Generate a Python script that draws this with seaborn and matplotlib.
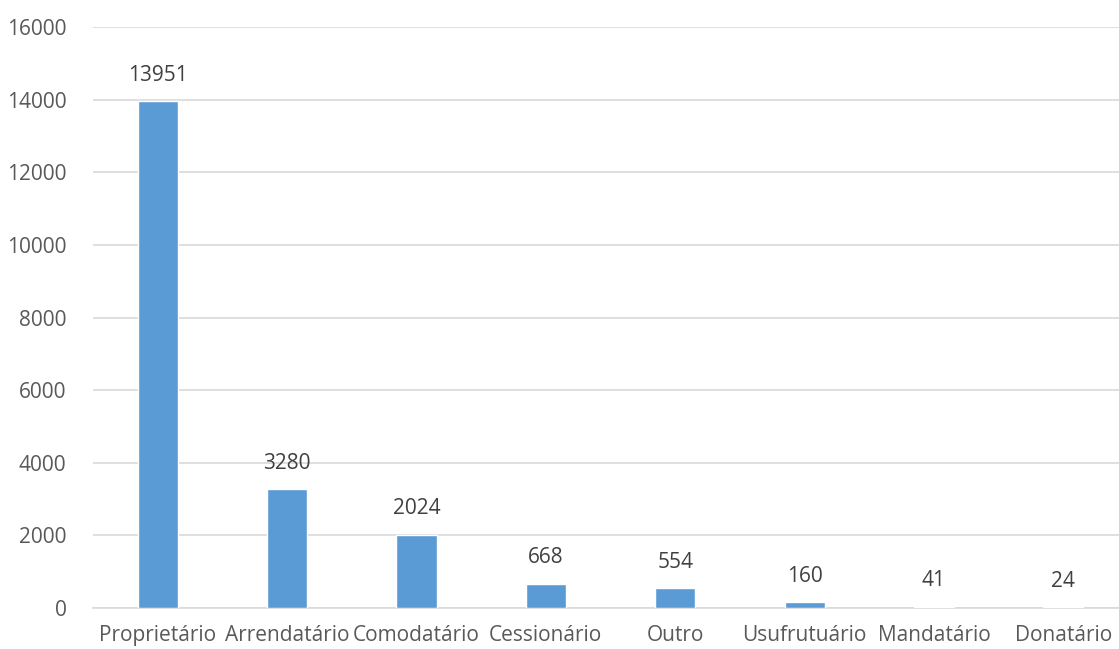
import matplotlib
matplotlib.use('Agg')
import matplotlib.pyplot as plt
import seaborn as sns
import pandas as pd

categorias = ['Proprietário', 'Arrendatário', 'Comodatário', 'Cessionário',
              'Outro', 'Usufrutuário', 'Mandatário', 'Donatário']
valores = [13951, 3280, 2024, 668, 554, 160, 41, 24]
ticks_y = [0, 2000, 4000, 6000, 8000, 10000, 12000, 14000, 16000]

cor_barra = '#5B9BD5'
cor_texto = '#595959'

sns.set_theme(style='white')
plt.rcParams['font.family'] = ['Open Sans', 'DejaVu Sans']

df = pd.DataFrame({'categoria': categorias, 'valor': valores})

fig = plt.figure(figsize=(11.19, 6.49), dpi=100)
ax = fig.add_axes([93 / 1119, 1 - 608 / 649, 1 - 93 / 1119, (608 - 27) / 649])

sns.barplot(data=df, x='categoria', y='valor', color=cor_barra, width=0.31,
            saturation=1, ax=ax, zorder=3)

ax.set_ylim(0, 16000)
ax.set_xlim(-0.5, 7.43)
ax.set_yticks(ticks_y)
ax.set_yticklabels([str(t) for t in ticks_y])
ax.grid(axis='y', color='#D9D9D9', linewidth=1.2, zorder=0)
ax.set_xlabel('')
ax.set_ylabel('')

for s in ['top', 'right', 'left']:
    ax.spines[s].set_visible(False)
ax.spines['bottom'].set_color('#D9D9D9')
ax.spines['bottom'].set_linewidth(1.2)

ax.tick_params(axis='both', length=0, labelsize=15, colors=cor_texto)
ax.tick_params(axis='x', pad=12)
ax.tick_params(axis='y', pad=19)

for i, v in enumerate(valores):
    ax.annotate(str(v), (i, v), xytext=(0, 11), textcoords='offset points',
                ha='center', va='bottom', fontsize=15, color='#404040')

fig.savefig('out.png', dpi=100)
